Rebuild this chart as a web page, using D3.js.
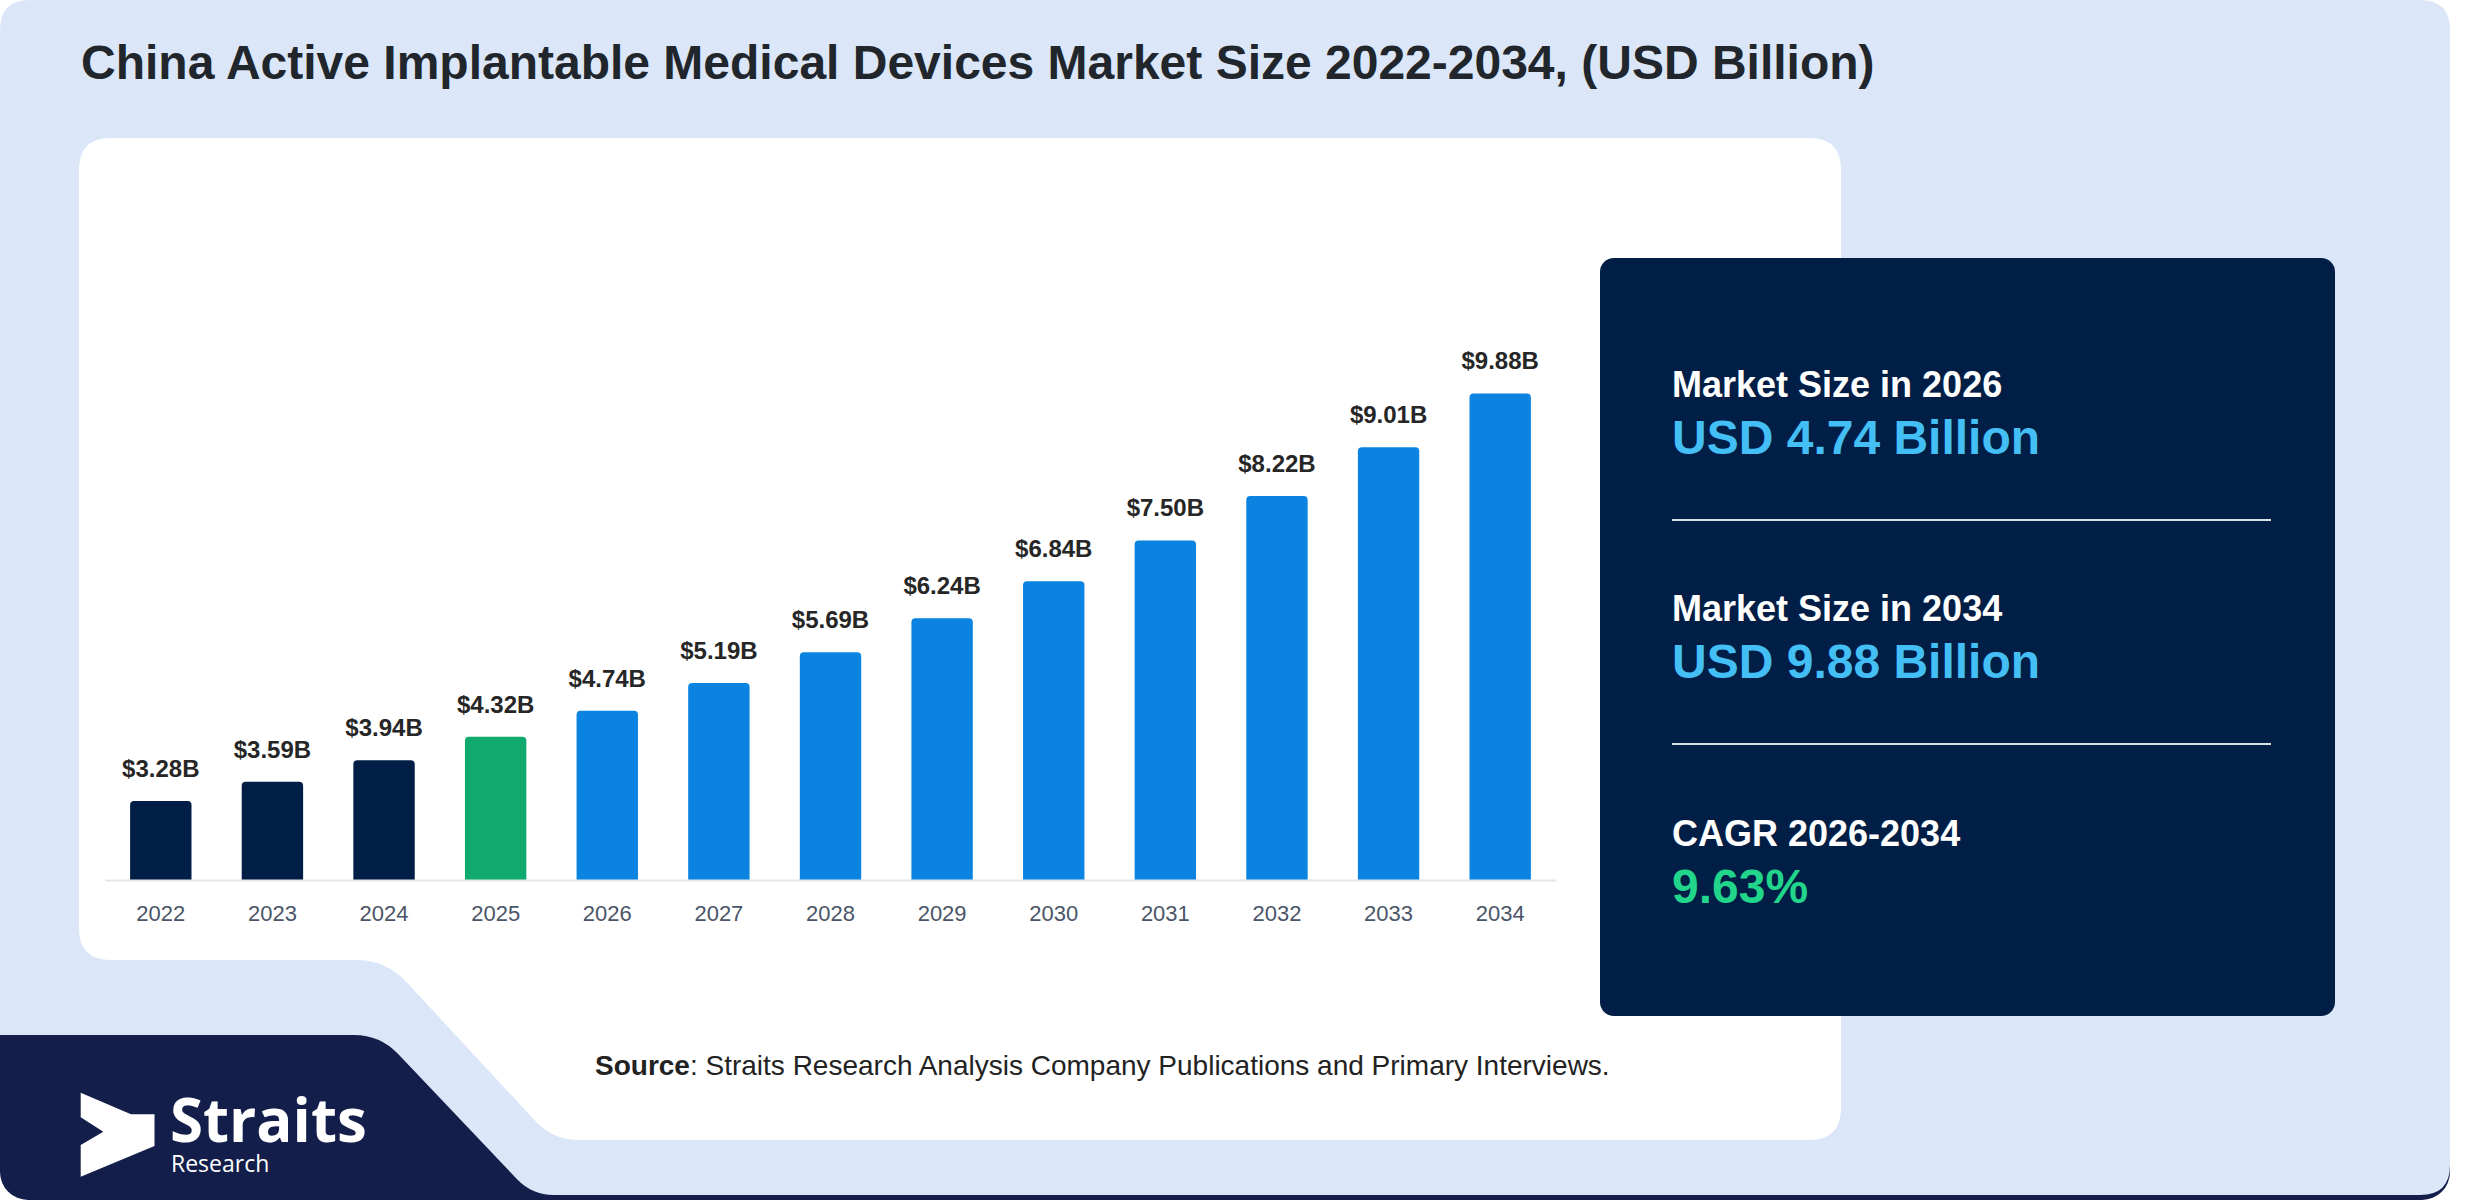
<!DOCTYPE html>
<html>
<head>
<meta charset="utf-8">
<script src="https://cdnjs.cloudflare.com/ajax/libs/d3/7.8.5/d3.min.js"></script>
<style>
  body { margin: 0; background: #ffffff; }
  svg { display: block; font-family: "Liberation Sans", Arial, sans-serif; }
</style>
</head>
<body>
<div id="chart"></div>
<script>
// data
var years = ['2022', '2023', '2024', '2025', '2026', '2027', '2028', '2029', '2030', '2031', '2032', '2033', '2034'];
var values = [3.28, 3.59, 3.94, 4.32, 4.74, 5.19, 5.69, 6.24, 6.84, 7.50, 8.22, 9.01, 9.88];
var valueLabels = ['$3.28B', '$3.59B', '$3.94B', '$4.32B', '$4.74B', '$5.19B', '$5.69B', '$6.24B', '$6.84B', '$7.50B', '$8.22B', '$9.01B', '$9.88B'];
var baseYear = '2025';
var summaryTitles = ['Market Size in 2026', 'Market Size in 2034', 'CAGR 2026-2034'];
var summaryValues = ['USD 4.74 Billion', 'USD 9.88 Billion', '9.63%'];

var width = 2480, height = 1200;

var svg = d3.select('#chart').append('svg')
  .attr('width', width)
  .attr('height', height);

// polygon with rounded corners, points as [x, y, radius]
function roundedPath(pts){
  var n = pts.length, d = '';
  for(var i = 0; i < n; i++){
    var p0 = pts[(i - 1 + n) % n], p1 = pts[i], p2 = pts[(i + 1) % n];
    var r = p1[2] || 0;
    var l1 = Math.hypot(p0[0] - p1[0], p0[1] - p1[1]);
    var l2 = Math.hypot(p2[0] - p1[0], p2[1] - p1[1]);
    var r1 = Math.min(r, l1 / 2), r2 = Math.min(r, l2 / 2);
    var ax = p1[0] + (p0[0] - p1[0]) / l1 * r1, ay = p1[1] + (p0[1] - p1[1]) / l1 * r1;
    var bx = p1[0] + (p2[0] - p1[0]) / l2 * r2, by = p1[1] + (p2[1] - p1[1]) / l2 * r2;
    d += (i === 0 ? 'M' : 'L') + ax + ',' + ay + 'Q' + p1[0] + ',' + p1[1] + ' ' + bx + ',' + by;
  }
  return d + 'Z';
}

// background layers
svg.append('rect')
  .attr('x', 0).attr('y', 990)
  .attr('width', 2450).attr('height', 210)
  .attr('rx', 28)
  .attr('fill', '#131f4a');

svg.append('path')
  .attr('d', roundedPath([[0, 0, 30], [2450, 0, 30], [2450, 1195, 30], [532, 1195, 22], [380, 1035, 26], [0, 1035, 0]]))
  .attr('fill', '#dbe7f8');

svg.append('path')
  .attr('d', roundedPath([[79, 138, 32], [1841, 138, 32], [1841, 1140, 32], [553, 1140, 26], [386, 960, 30], [79, 960, 32]]))
  .attr('fill', '#ffffff');

// title
svg.append('text')
  .attr('x', 81)
  .attr('y', 79)
  .attr('font-size', 48)
  .attr('font-weight', 'bold')
  .attr('fill', '#21262d')
  .text('China Active Implantable Medical Devices Market Size 2022-2034, (USD Billion)');

// scales
var x = d3.scaleBand()
  .domain(years)
  .range([105, 1556])
  .paddingInner(0.45)
  .paddingOuter(0.225);

var y = d3.scaleLinear()
  .domain([2, 10])
  .range([880, 386]);

function barColor(year){
  if(year < baseYear) return '#011e46';
  if(year === baseYear) return '#10a96e';
  return '#0a84e0';
}

// bar with rounded top corners
function barPath(x0, y0, w, h, r){
  return 'M' + x0 + ',' + (y0 + h) +
    'V' + (y0 + r) +
    'Q' + x0 + ',' + y0 + ' ' + (x0 + r) + ',' + y0 +
    'H' + (x0 + w - r) +
    'Q' + (x0 + w) + ',' + y0 + ' ' + (x0 + w) + ',' + (y0 + r) +
    'V' + (y0 + h) + 'Z';
}

var chart = svg.append('g').attr('class', 'bars');

chart.selectAll('path.bar')
  .data(years)
  .enter().append('path')
  .attr('class', 'bar')
  .attr('d', function(d, i){
    return barPath(x(d), y(values[i]), x.bandwidth(), y(2) - y(values[i]), 4);
  })
  .attr('fill', function(d){ return barColor(d); });

chart.selectAll('text.value')
  .data(years)
  .enter().append('text')
  .attr('class', 'value')
  .attr('x', function(d){ return x(d) + x.bandwidth() / 2; })
  .attr('y', function(d, i){ return y(values[i]) - 24; })
  .attr('text-anchor', 'middle')
  .attr('font-size', 24)
  .attr('font-weight', 'bold')
  .attr('fill', '#262626')
  .text(function(d, i){ return valueLabels[i]; });

// x axis
var axis = svg.append('g')
  .attr('transform', 'translate(0,' + y(2) + ')')
  .call(d3.axisBottom(x).tickSize(0).tickSizeOuter(0).tickPadding(25));

axis.select('.domain')
  .attr('stroke', '#e3e6eb')
  .attr('stroke-width', 2);

axis.selectAll('text')
  .attr('font-size', 22)
  .attr('font-family', '"Liberation Sans", Arial, sans-serif')
  .attr('fill', '#4a5568');

// summary panel
svg.append('rect')
  .attr('x', 1600).attr('y', 258)
  .attr('width', 735).attr('height', 758)
  .attr('rx', 14)
  .attr('fill', '#011e46');

var summaryColors = ['#44bff5', '#44bff5', '#21d68b'];
var rowTop = [397, 621, 846];

summaryTitles.forEach(function(t, i){
  svg.append('text')
    .attr('x', 1672)
    .attr('y', rowTop[i])
    .attr('font-size', 36)
    .attr('font-weight', 'bold')
    .attr('fill', '#ffffff')
    .text(t);

  svg.append('text')
    .attr('x', 1672)
    .attr('y', rowTop[i] + 57)
    .attr('font-size', 48)
    .attr('font-weight', 'bold')
    .attr('fill', summaryColors[i])
    .text(summaryValues[i]);

  if(i < summaryTitles.length - 1){
    svg.append('line')
      .attr('x1', 1672).attr('x2', 2271)
      .attr('y1', rowTop[i] + 123).attr('y2', rowTop[i] + 123)
      .attr('stroke', '#d8dde6')
      .attr('stroke-width', 2);
  }
});

// source note
var source = svg.append('text')
  .attr('x', 595)
  .attr('y', 1075)
  .attr('font-size', 28)
  .attr('fill', '#222222');
source.append('tspan').attr('font-weight', 'bold').text('Source');
source.append('tspan').text(': Straits Research Analysis Company Publications and Primary Interviews.');

// logo
var logo = svg.append('g').attr('class', 'logo');
logo.append('path')
  .attr('d', 'M80.7,1092.7L131,1114.3H154.5V1146L80.7,1176.7V1145L103.3,1131.7L80.7,1117.3Z')
  .attr('fill', '#ffffff');
logo.append('text')
  .attr('x', 170).attr('y', 1142)
  .attr('font-family', '"Open Sans", sans-serif')
  .attr('font-weight', 'bold')
  .attr('font-size', 60)
  .attr('fill', '#ffffff')
  .text('Straits');
logo.append('text')
  .attr('x', 171).attr('y', 1172)
  .attr('font-family', '"Open Sans", sans-serif')
  .attr('font-size', 23)
  .attr('fill', '#ffffff')
  .text('Research');
</script>
</body>
</html>
